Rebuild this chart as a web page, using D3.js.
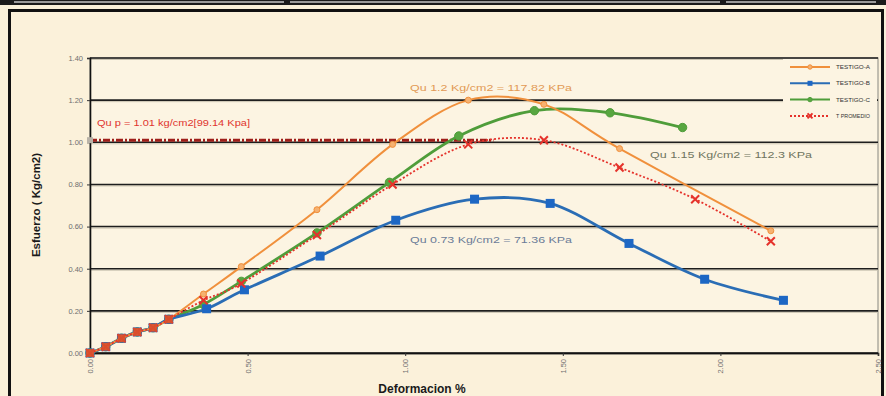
<!DOCTYPE html>
<html>
<head>
<meta charset="utf-8">
<script src="https://cdn.jsdelivr.net/npm/d3@7"></script>
<style>
  html, body { margin: 0; padding: 0; background: #f9f0d9; }
  svg { display: block; font-family: "Liberation Sans", Arial, sans-serif; }
</style>
</head>
<body>
<svg id="chart" width="886" height="396"></svg>
<script>
// Deformation (%) and stress (kg/cm2) readings for each specimen
const xA = [0, 0.05, 0.10, 0.15, 0.20, 0.25, 0.36, 0.48, 0.72, 0.96, 1.20, 1.44, 1.68, 2.16];
const yA = [0, 0.03, 0.07, 0.10, 0.12, 0.16, 0.28, 0.41, 0.68, 0.99, 1.20, 1.18, 0.97, 0.58];

const xB = [0, 0.05, 0.10, 0.15, 0.20, 0.25, 0.37, 0.49, 0.73, 0.97, 1.22, 1.46, 1.71, 1.95, 2.20];
const yB = [0, 0.03, 0.07, 0.10, 0.12, 0.16, 0.21, 0.30, 0.46, 0.63, 0.73, 0.71, 0.52, 0.35, 0.25];

const xC = [0, 0.05, 0.10, 0.15, 0.20, 0.25, 0.36, 0.48, 0.72, 0.95, 1.17, 1.41, 1.65, 1.88];
const yC = [0, 0.03, 0.07, 0.10, 0.12, 0.16, 0.23, 0.34, 0.57, 0.81, 1.03, 1.15, 1.14, 1.07];

const xP = [0, 0.05, 0.10, 0.15, 0.20, 0.25, 0.36, 0.48, 0.72, 0.96, 1.20, 1.44, 1.68, 1.92, 2.16];
const yP = [0, 0.03, 0.07, 0.10, 0.12, 0.16, 0.25, 0.33, 0.56, 0.80, 0.99, 1.01, 0.88, 0.73, 0.53];

// Average unconfined strength reference line
const quLineX = [0, 1.28];
const quLineY = [1.01, 1.01];

const seriesNames = ["TESTIGO-A", "TESTIGO-B", "TESTIGO-C", "T PROMEDIO"];
const xTicks = [0, 0.5, 1.0, 1.5, 2.0, 2.5];
const yTicks = [0, 0.2, 0.4, 0.6, 0.8, 1.0, 1.2, 1.4];

const svg = d3.select("#chart");
const W = 886, H = 396;
const plot = { left: 90, right: 878, top: 58, bottom: 353 };

// Page / frame
svg.append("rect").attr("width", W).attr("height", H).attr("fill", "#f9f0d9");
svg.append("rect").attr("x", 0).attr("y", 0).attr("width", W).attr("height", 5).attr("fill", "#1a1a1a");
svg.append("rect").attr("x", 14).attr("y", 1).attr("width", 270).attr("height", 2).attr("fill", "#9a9a9a");
svg.append("rect").attr("x", 290).attr("y", 1).attr("width", 430).attr("height", 2).attr("fill", "#9a9a9a");
svg.append("rect").attr("x", 726).attr("y", 1).attr("width", 150).attr("height", 2).attr("fill", "#9a9a9a");
svg.append("rect").attr("x", 9.5).attr("y", 10.5).attr("width", 873).attr("height", 400)
  .attr("fill", "#fbf1da").attr("stroke", "#111").attr("stroke-width", 3);

const x = d3.scaleLinear().domain([0, 2.5]).range([plot.left, plot.right]);
const y = d3.scaleLinear().domain([0, 1.4]).range([plot.bottom, plot.top]);

// Plot area
svg.append("rect").attr("x", plot.left).attr("y", plot.top)
  .attr("width", plot.right - plot.left).attr("height", plot.bottom - plot.top)
  .attr("fill", "#fcf4e2").attr("stroke", "#9c9a92").attr("stroke-width", 1.2);

// Horizontal gridlines
const grid = svg.append("g");
grid.selectAll("line.sh").data(yTicks).join("line")
  .attr("x1", plot.left).attr("x2", plot.right)
  .attr("y1", d => y(d) + 1.5).attr("y2", d => y(d) + 1.5)
  .attr("stroke", "#c9c2b0").attr("stroke-width", 1);
grid.selectAll("line.g").data(yTicks).join("line")
  .attr("x1", plot.left).attr("x2", plot.right)
  .attr("y1", d => y(d)).attr("y2", d => y(d))
  .attr("stroke", "#1e1e1e").attr("stroke-width", 1.6);

// Axes
const yAxis = svg.append("g").attr("transform", `translate(${plot.left},0)`)
  .call(d3.axisLeft(y).tickValues(yTicks).tickFormat(d3.format(".2f")).tickSize(3).tickPadding(4));
const xAxis = svg.append("g").attr("transform", `translate(0,${plot.bottom})`)
  .call(d3.axisBottom(x).tickValues(xTicks).tickFormat(d3.format(".2f")).tickSize(3));
[yAxis, xAxis].forEach(a => {
  a.select(".domain").attr("stroke", "#111").attr("stroke-width", 1.6);
  a.selectAll(".tick line").attr("stroke", "#333");
  a.selectAll("text").attr("fill", "#6e6e6e").attr("font-size", 7.5);
});
xAxis.selectAll("text")
  .attr("transform", "rotate(-90)")
  .attr("text-anchor", "end")
  .attr("x", -6).attr("y", 0).attr("dy", "0.32em");

// Axis titles
svg.append("text").attr("transform", "translate(40,205) rotate(-90)")
  .attr("text-anchor", "middle").attr("font-size", 11.5).attr("font-weight", "bold")
  .attr("fill", "#1a1a1a").text("Esfuerzo ( Kg/cm2)");
svg.append("text").attr("x", 422).attr("y", 393)
  .attr("text-anchor", "middle").attr("font-size", 12).attr("font-weight", "bold")
  .attr("fill", "#1a1a1a").text("Deformacion %");

const smooth = d3.line().x(d => x(d[0])).y(d => y(d[1])).curve(d3.curveCardinal.tension(0));
const zip = (xs, ys) => xs.map((v, i) => [v, ys[i]]);

// Reference line for average Qu
svg.append("path").datum(zip(quLineX, quLineY))
  .attr("d", d3.line().x(d => x(d[0])).y(d => y(d[1])))
  .attr("fill", "none").attr("stroke", "#9e1f1a").attr("stroke-width", 3)
  .attr("stroke-dasharray", "7,2,2,2");
svg.append("rect").attr("x", x(0) - 3).attr("y", y(1.01) - 3).attr("width", 6).attr("height", 6)
  .attr("fill", "#b9b3a8");

const series = [
  { name: seriesNames[0], data: zip(xA, yA), color: "#f0903c", width: 2, marker: "circle", size: 3, fill: "#f6b170" },
  { name: seriesNames[1], data: zip(xB, yB), color: "#2a6db5", width: 2.8, marker: "square", size: 9, fill: "#1d67c4" },
  { name: seriesNames[2], data: zip(xC, yC), color: "#4f9d3a", width: 2.8, marker: "circle", size: 4.2, fill: "#58a640" },
  { name: seriesNames[3], data: zip(xP, yP), color: "#e5322b", width: 1.8, marker: "x", size: 4, fill: "none", dash: "2,2" }
];

function drawMarker(g, s, px, py) {
  if (s.marker === "circle") {
    g.append("circle").attr("cx", px).attr("cy", py).attr("r", s.size)
      .attr("fill", s.fill).attr("stroke", s.color).attr("stroke-width", 1);
  } else if (s.marker === "square") {
    g.append("rect").attr("x", px - s.size / 2).attr("y", py - s.size / 2)
      .attr("width", s.size).attr("height", s.size).attr("fill", s.fill);
  } else {
    const r = s.size;
    g.append("path").attr("d", `M${px - r},${py - r}L${px + r},${py + r}M${px - r},${py + r}L${px + r},${py - r}`)
      .attr("stroke", s.color).attr("stroke-width", 2).attr("fill", "none");
  }
}

// Draw in the order C, B, A, P so the average sits on top
[series[2], series[1], series[0], series[3]].forEach(s => {
  const g = svg.append("g");
  g.append("path").datum(s.data).attr("d", smooth)
    .attr("fill", "none").attr("stroke", s.color).attr("stroke-width", s.width)
    .attr("stroke-dasharray", s.dash || null);
  s.data.forEach(d => drawMarker(g, s, x(d[0]), y(d[1])));
});

// Start-cluster markers shared by all specimens
svg.append("g").selectAll("rect").data(zip(xP, yP).slice(0, 6)).join("rect")
  .attr("x", d => x(d[0]) - 4).attr("y", d => y(d[1]) - 4)
  .attr("width", 8).attr("height", 8).attr("fill", "#d8502c").attr("opacity", 0.9);

// Value annotations (wide, condensed-height lettering)
function note(tx, ty, color, len, str) {
  svg.append("text").attr("x", tx).attr("y", ty).attr("font-size", 9).attr("fill", color)
    .attr("textLength", len).attr("lengthAdjust", "spacingAndGlyphs").text(str);
}
note(97, 126, "#e0352e", 153, "Qu p = 1.01 kg/cm2[99.14 Kpa]");
note(410, 91, "#e29a55", 162, "Qu 1.2 Kg/cm2 = 117.82 KPa");
note(650, 158, "#6f7460", 162, "Qu 1.15 Kg/cm2 = 112.3 KPa");
note(410, 243, "#6b7c98", 162, "Qu 0.73 Kg/cm2 = 71.36 KPa");

// Legend
const lg = svg.append("g");
lg.append("rect").attr("x", 783).attr("y", 59).attr("width", 94).attr("height", 66).attr("fill", "#fcf4e2");
series.forEach((s, i) => {
  const ly = 67 + i * 16.3;
  lg.append("line").attr("x1", 790).attr("x2", 830).attr("y1", ly).attr("y2", ly)
    .attr("stroke", s.color).attr("stroke-width", 2).attr("stroke-dasharray", s.dash || null);
  drawMarker(lg, Object.assign({}, s, { size: s.marker === "square" ? 5 : (s.marker === "x" ? 2.5 : 2.2) }), 810, ly);
  lg.append("text").attr("x", 836).attr("y", ly + 2).attr("font-size", 5.5).attr("fill", "#333")
    .attr("textLength", 34).attr("lengthAdjust", "spacingAndGlyphs").text(s.name);
});
</script>
</body>
</html>
